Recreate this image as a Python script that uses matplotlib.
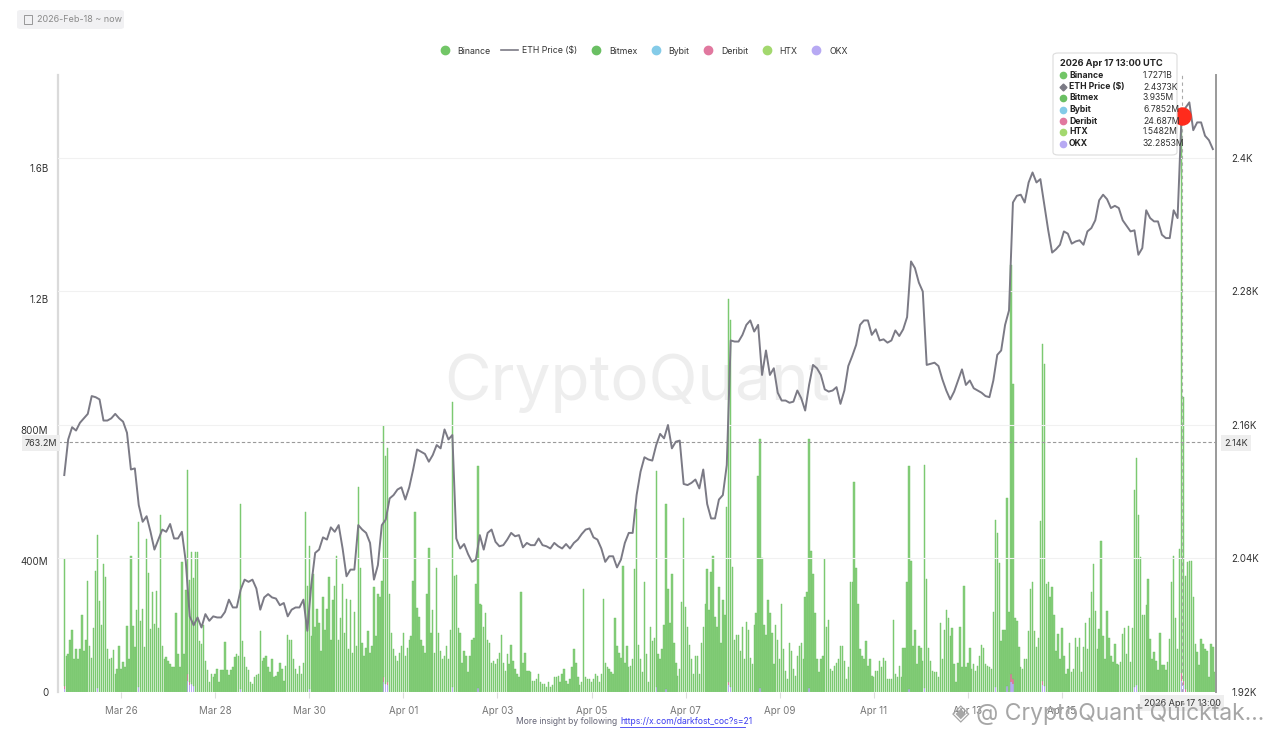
import matplotlib
matplotlib.use("Agg")
import matplotlib.pyplot as plt
from matplotlib.lines import Line2D
from matplotlib.patches import FancyBboxPatch, Rectangle
import matplotlib.dates as mdates
import numpy as np
import pandas as pd

plt.rcParams["font.family"] = ["Inter", "DejaVu Sans"]

# hourly bars start here, price is sampled every 2 hours
start_time = "2026-03-24 19:00"

# Binance hourly volume (million USD)
binance = [
    389, 110, 115, 160, 190, 100, 130, 100, 130, 235, 125, 160, 339, 140, 105, 195, 369, 468, 279, 205,
    391, 351, 130, 100, 105, 128, 56, 71, 141, 71, 91, 76, 201, 101, 416, 201, 138, 251, 504, 216,
    254, 136, 468, 364, 191, 306, 208, 308, 196, 541, 141, 101, 106, 96, 86, 76, 76, 241, 116, 76,
    396, 116, 311, 624, 311, 401, 331, 426, 426, 156, 146, 206, 96, 68, 31, 56, 46, 56, 71, 31,
    66, 66, 153, 66, 51, 66, 76, 106, 116, 111, 566, 156, 106, 76, 66, 31, 24, 46, 51, 56, 186,
    95, 105, 110, 75, 60, 100, 45, 50, 60, 90, 70, 35, 80, 175, 160, 160, 100, 70, 55, 80,
    55, 90, 550, 324, 436, 170, 360, 200, 254, 210, 125, 290, 190, 254, 352, 160, 280, 325, 415, 160,
    225, 330, 180, 285, 130, 282, 120, 245, 140, 625, 380, 150, 110, 135, 185, 120, 140, 320, 170, 300,
    290, 340, 766, 696, 716, 300, 180, 130, 110, 95, 120, 140, 180, 110, 135, 160, 170, 340, 550, 255,
    230, 160, 140, 120, 300, 440, 180, 250, 120, 380, 180, 125, 100, 110, 140, 100,
    190, 869, 355, 356, 195, 180, 90, 125, 110, 60, 110, 160, 165, 330, 678, 270, 265, 200, 240, 160,
    150, 90, 95, 85, 100, 120, 175, 90, 65, 115, 85, 145, 95, 70, 55, 45, 305, 90, 120, 65,
    65, 60, 35, 35, 40, 55, 30, 25, 25, 15, 30, 15, 20, 45, 45, 50, 30, 55, 70, 35,
    25, 40, 75, 130, 90, 45, 20, 30, 315, 45, 40, 40, 30, 40, 55, 50, 30, 55, 285, 90,
    75, 70, 60, 55, 225, 140, 120, 105, 385, 90, 140, 75, 80, 100, 375, 560,
    145, 100, 60, 335, 115, 30, 200, 155, 165, 661, 115, 100, 130, 205, 565, 315, 210, 360, 150, 90,
    50, 70, 275, 530, 260, 200, 145, 100, 55, 110, 110, 55, 150, 200, 270, 375, 250, 365, 415, 230,
    200, 320, 150, 280, 235, 566, 1170, 1120, 381, 160, 175, 175, 125, 200, 100, 215, 190, 105, 85, 205,
    240, 660, 760, 410, 205, 175, 280, 240, 180, 85, 205, 160, 100, 270, 130, 65, 40, 150, 125, 70,
    50, 110, 140, 150, 100, 290, 305, 760, 430, 360, 240, 100, 60, 100,
    110, 405, 200, 220, 70, 65, 80, 90, 100, 140, 140, 95, 40, 75, 335, 335, 640, 380, 270, 130,
    110, 100, 155, 80, 100, 50, 45, 65, 65, 95, 75, 105, 95, 40, 40, 40, 220, 55, 45, 80,
    45, 135, 135, 335, 680, 400, 140, 190, 85, 140, 135, 95, 680, 345, 135, 95, 65, 60, 60, 45,
    210, 100, 190, 250, 225, 170, 195, 85, 30, 90, 200, 75, 325, 75, 90, 135, 70, 85, 65, 80,
    110, 145, 135, 85, 80, 75, 70, 245, 510, 485, 395, 155, 190, 190, 575, 245,
    1250, 900, 226, 216, 136, 76, 71, 101, 101, 186, 316, 336, 186, 136, 166, 521, 1030, 985, 331, 336,
    291, 321, 236, 126, 176, 101, 196, 111, 56, 71, 151, 61, 71, 166, 136, 166, 61, 136, 211, 131,
    226, 306, 391, 246, 131, 191, 461, 171, 101, 246, 166, 111, 91, 146, 86, 81, 91, 176, 196, 116,
    201, 91, 196, 601, 696, 541, 411, 236, 236, 266, 346, 161, 101, 121, 96, 66, 181, 81, 81, 66,
    91, 161, 336, 416, 226, 131, 436, 1727.1, 867, 346, 396, 401, 401, 291, 146, 121, 81, 161, 146, 131,
    126, 46, 146, 136, 61,
]

# ETH price, one value every 2 hours
eth_price = [
    2115, 2147, 2158, 2155, 2162, 2166, 2170, 2186, 2185, 2183,
    2164, 2164, 2166, 2170, 2166, 2163, 2153, 2120, 2121, 2088,
    2073, 2078, 2064, 2048, 2057, 2066, 2064, 2071, 2058, 2058,
    2064, 2037, 1988, 1980, 1987, 1978, 1990, 1984, 1988, 1987,
    1987, 1992, 2003, 1996, 1996, 2012, 2021, 2019, 2021, 2013,
    1994, 2005, 2008, 2005, 2004, 1998, 2000, 1988, 1994, 1996,
    1996, 2003, 1975, 2016, 2045, 2048, 2059, 2057, 2068, 2064,
    2070, 2049, 2024, 2030, 2030, 2070, 2066, 2063, 2054, 2021,
    2034, 2070, 2075, 2094, 2097, 2102, 2104, 2093, 2104, 2120,
    2138, 2136, 2134, 2127, 2133, 2142, 2139, 2156, 2147, 2151,
    2058, 2049, 2053, 2044, 2037, 2039, 2061, 2048, 2063, 2066,
    2055, 2051, 2052, 2057, 2063, 2060, 2061, 2050, 2054, 2052,
    2052, 2058, 2052, 2051, 2049, 2054, 2051, 2049, 2053, 2049,
    2054, 2057, 2062, 2066, 2067, 2059, 2057, 2049, 2037, 2042,
    2042, 2032, 2039, 2054, 2063, 2063, 2097, 2118, 2131, 2129,
    2128, 2142, 2152, 2148, 2160, 2139, 2145, 2146, 2107, 2106,
    2108, 2111, 2103, 2120, 2089, 2076, 2076, 2093, 2097, 2124,
    2236, 2235, 2235, 2241, 2250, 2254, 2244, 2250, 2205, 2227,
    2205, 2211, 2189, 2182, 2182, 2180, 2181, 2191, 2184, 2173,
    2196, 2214, 2211, 2205, 2192, 2190, 2191, 2194, 2179, 2191,
    2213, 2222, 2232, 2250, 2254, 2254, 2241, 2246, 2236, 2237,
    2234, 2236, 2245, 2240, 2246, 2257, 2307, 2301, 2288, 2280,
    2214, 2215, 2216, 2213, 2201, 2191, 2183, 2190, 2200, 2210,
    2196, 2200, 2193, 2191, 2189, 2186, 2185, 2200, 2223, 2227,
    2250, 2263, 2360, 2366, 2367, 2360, 2378, 2387, 2378, 2381,
    2358, 2335, 2315, 2318, 2322, 2334, 2332, 2323, 2325, 2326,
    2322, 2334, 2337, 2344, 2362, 2367, 2363, 2355, 2357, 2355,
    2344, 2339, 2334, 2335, 2313, 2319, 2353, 2346, 2343, 2343,
    2331, 2328, 2328, 2353, 2346, 2437.3, 2445, 2450, 2425, 2432,
    2432, 2420, 2416, 2408,
]

# small exchanges, only the hours where they show up (million USD)
okx_hours = [0, 17, 38, 63, 64, 65, 66, 90, 125, 163, 164, 165, 198, 211, 302, 307, 339, 340,
             355, 380, 431, 439, 475, 481, 483, 484, 499, 500, 546, 547, 570, 571]
okx_values = [10, 12, 15, 35, 20, 25, 18, 8, 10, 30, 25, 20, 15, 12, 14, 10, 20, 15,
              12, 12, 10, 12, 15, 18, 30, 25, 22, 18, 15, 20, 32.3, 20]
deribit_hours = [0, 63, 64, 163, 165, 339, 483, 484, 499, 570, 571, 572]
deribit_values = [8, 20, 12, 15, 10, 10, 25, 15, 12, 24.7, 15, 8]

# tooltip
tooltip_time = "2026-04-17 13:00"
tooltip_names = ["Binance", "ETH Price ($)", "Bitmex", "Bybit", "Deribit", "HTX", "OKX"]
tooltip_values = ["1.7271B", "2.4373K", "3.935M", "6.7852M", "24.687M", "1.5482M", "32.2853M"]
tooltip_price = 2437.3
series_colors = ["#72c667", "#7b7a85", "#6abf63", "#84cbe8", "#e1789f", "#a3d86e", "#b7a9f3"]

cross_volume = 763.2
cross_price_label = "2.14K"

left_ticks = [0, 400, 800, 1200, 1600]
left_labels = ["0", "400M", "800M", "1.2B", "1.6B"]
right_ticks = [1920, 2040, 2160, 2280, 2400]
right_labels = ["1.92K", "2.04K", "2.16K", "2.28K", "2.4K"]

bar_times = pd.date_range(start_time, periods=len(binance), freq="h")
price_times = bar_times[::2][:len(eth_price)]

okx = np.zeros(len(binance))
okx[okx_hours] = okx_values
deribit = np.zeros(len(binance))
deribit[deribit_hours] = deribit_values

W, H = 1280, 737
fig = plt.figure(figsize=(12.8, 7.37), dpi=100)
ax = fig.add_axes([58 / W, 1 - 692 / H, (1216 - 58) / W, (692 - 75) / H])
ax2 = ax.twinx()

bw = 0.72 / 24
ax.bar(bar_times, okx, width=bw, color=series_colors[6], linewidth=0, zorder=2)
ax.bar(bar_times, deribit, width=bw, bottom=okx, color=series_colors[4], linewidth=0, zorder=2)
ax.bar(bar_times, binance, width=bw, bottom=okx + deribit, color="#86ce7b", edgecolor="#6ec263",
       linewidth=0.3, zorder=2)

ax2.plot(price_times, eth_price, color=series_colors[1], linewidth=1.4, zorder=3)

t_tip = pd.Timestamp(tooltip_time)
ax2.axvline(t_tip, color="#aaaaaa", linewidth=0.8, linestyle=(0, (3, 3)), zorder=4)
ax.axhline(cross_volume, color="#9a9a9a", linewidth=0.8, linestyle=(0, (3, 2)), zorder=3)
ax2.scatter([t_tip], [tooltip_price], s=150, color="#ff2b1c", zorder=6, clip_on=False)

ax.set_ylim(0, 1884)
ax2.set_ylim(1920, 2474.6)
ax.set_xlim(bar_times[0] - pd.Timedelta(hours=3.2), bar_times[-1] + pd.Timedelta(hours=0.6))

ax.set_yticks(left_ticks)
ax.set_yticklabels(left_labels)
ax2.set_yticks(right_ticks)
ax2.set_yticklabels(right_labels)

tick_days = pd.date_range("2026-03-26", "2026-04-15", freq="2D")
ax.set_xticks(tick_days)
ax.xaxis.set_major_formatter(mdates.DateFormatter("%b %d"))

ax.tick_params(axis="y", length=0, pad=7, labelsize=7, labelcolor="#333333")
ax2.tick_params(axis="y", length=0, pad=11, labelsize=7, labelcolor="#333333")
ax.tick_params(axis="x", length=4, color="#dddddd", pad=6, labelsize=7, labelcolor="#777777")

ax2.yaxis.grid(True, color="#f1f1f1", linewidth=0.8)
ax2.set_axisbelow(True)

for s in ["top", "right", "bottom"]:
    ax.spines[s].set_visible(False)
for s in ["top", "left", "bottom"]:
    ax2.spines[s].set_visible(False)
ax.spines["left"].set_color("#dadada")
ax.spines["left"].set_linewidth(1.6)
ax2.spines["right"].set_color("#9a9a9a")
ax2.spines["right"].set_linewidth(1.4)

# watermark
ax.text(0.5, 0.5, "CryptoQuant", transform=ax.transAxes, ha="center", va="center",
        fontsize=46, color="#eeeeee", zorder=1)

# legend
handles = []
for name, c in zip(tooltip_names, series_colors):
    if name.startswith("ETH"):
        handles.append(Line2D([], [], color=c, linewidth=1.2))
    else:
        handles.append(Line2D([], [], marker="o", linestyle="none", markersize=6, color=c))
fig.legend(handles, tooltip_names, loc="center", bbox_to_anchor=(642 / W, 1 - 51 / H), ncol=7,
           frameon=False, fontsize=6.3, handlelength=1.9, columnspacing=1.2, handletextpad=0.5,
           labelcolor="#333333")

# crosshair labels
box = dict(boxstyle="square,pad=0.35", fc="#eeeeee", ec="none")
fig.text(41 / W, 1 - 443 / H, "763.2M", ha="center", va="center", fontsize=6.5, color="#333333", bbox=box)
fig.text(1236 / W, 1 - 443 / H, cross_price_label, ha="center", va="center", fontsize=6.5,
         color="#333333", bbox=box)
fig.text(1182 / W, 1 - 703 / H, "2026 Apr 17 13:00", ha="center", va="center", fontsize=6.5,
         color="#333333", bbox=box)

# tooltip box
fig.patches.append(FancyBboxPatch((1053 / W, 1 - 155 / H), 124 / W, 102 / H,
                                  boxstyle="round,pad=0,rounding_size=0.004",
                                  transform=fig.transFigure, fc="white", ec="#dcdcdc", lw=0.8, zorder=5))
fig.text(1060 / W, 1 - 64 / H, "2026 Apr 17 13:00 UTC", fontsize=6.6, fontweight="bold",
         color="#222222", va="center", zorder=6)
row_y = [75, 87, 98, 110, 121, 132, 144]
for y, name, val, c in zip(row_y, tooltip_names, tooltip_values, series_colors):
    mk = "D" if name.startswith("ETH") else "o"
    fig.lines.append(Line2D([1063 / W], [1 - y / H], marker=mk, markersize=4.5 if mk == "o" else 3.5,
                            color=c, linestyle="none", transform=fig.transFigure, zorder=6))
    fig.text(1069 / W, 1 - y / H, name, fontsize=6.2, fontweight="bold", color="#222222",
             va="center", zorder=6)
    fig.text(1143 / W, 1 - y / H, val, fontsize=6.2, color="#333333", va="center", zorder=6)

# date range chip
fig.patches.append(FancyBboxPatch((17 / W, 1 - 29 / H), 107 / W, 19 / H,
                                  boxstyle="round,pad=0,rounding_size=0.003",
                                  transform=fig.transFigure, fc="#f1f1f3", ec="none", zorder=1))
fig.patches.append(Rectangle((24 / W, 1 - 24 / H), 8 / W, 9 / H, transform=fig.transFigure,
                             fill=False, ec="#8a8a8a", lw=0.6, zorder=2))
fig.text(37 / W, 1 - 19.5 / H, "2026-Feb-18 ~ now", fontsize=6.5, color="#8a8a8a", va="center")

# footer
fig.text(617 / W, 1 - 722 / H, "More insight by following", fontsize=6.2, color="#666677",
         ha="right", va="center")
fig.text(620 / W, 1 - 722 / H, "https://x.com/darkfost_coc?s=21", fontsize=6.2, color="#3b3bf0",
         ha="left", va="center")
fig.lines.append(Line2D([620 / W, 745 / W], [1 - 727 / H, 1 - 727 / H], color="#3b3bf0",
                        linewidth=0.6, transform=fig.transFigure))

# platform watermark
fig.text(952 / W, 1 - 714 / H, "\u25c8 @ CryptoQuant Quicktak...", fontsize=16.5, color="#a6a6a6",
         ha="left", va="center", zorder=7)

fig.savefig("out.png", dpi=100, facecolor="white")
